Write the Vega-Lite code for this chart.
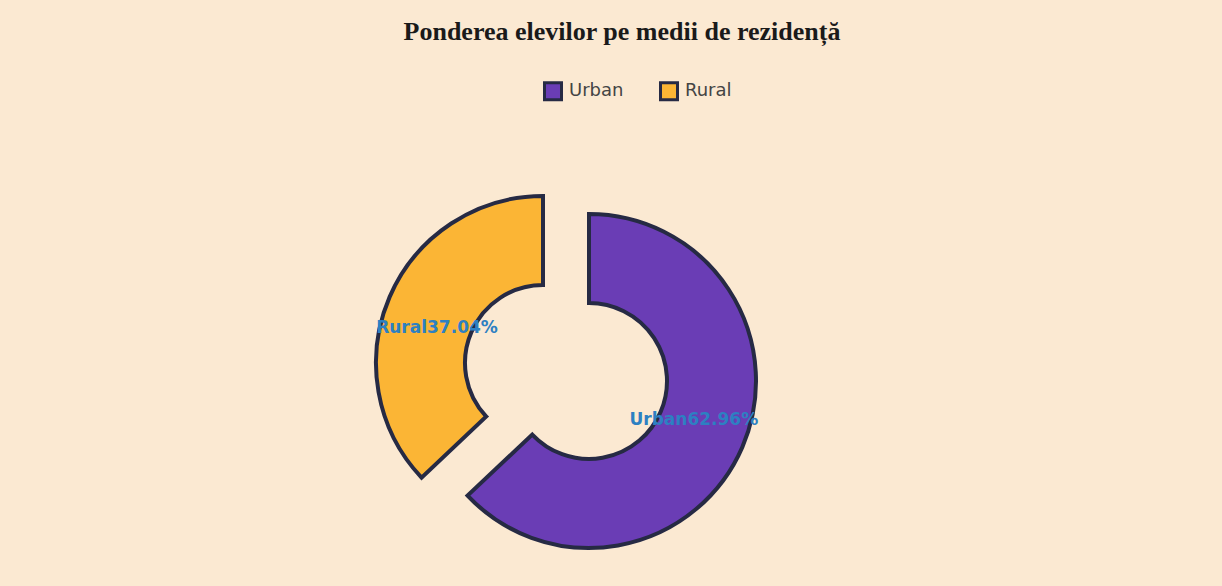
{
  "$schema": "https://vega.github.io/schema/vega-lite/v6.json",
  "autosize": {"type": "fit", "contains": "padding"},
  "width": 1222,
  "height": 586,
  "padding": {"top": 19, "left": 0, "right": 90, "bottom": 0},
  "background": "#fbe9d2",
  "config": {"view": {"stroke": null}},
  "title": {
    "text": "Ponderea elevilor pe medii de rezidență",
    "font": "Liberation Serif",
    "fontSize": 26,
    "fontWeight": "bold",
    "color": "#1a1a1a",
    "anchor": "middle",
    "frame": "group",
    "dx": 56,
    "offset": 113
  },
  "data": {
    "values": [
      {"mediu": "Urban", "pct": 62.96, "label": "Urban62.96%"},
      {"mediu": "Rural", "pct": 37.04, "label": "Rural37.04%"}
    ]
  },
  "transform": [
    {"stack": "pct", "groupby": [], "as": ["p0", "p1"], "sort": [{"field": "mediu", "order": "descending"}]}
  ],
  "layer": [
    {
      "transform": [{"filter": "datum.mediu == 'Urban'"}],
      "mark": {"type": "arc", "radius": 167, "radius2": 78, "stroke": "#262a44", "strokeWidth": 4, "xOffset": 23, "yOffset": 9},
      "encoding": {
        "theta": {"field": "p0", "type": "quantitative", "scale": {"domain": [0, 100]}},
        "theta2": {"field": "p1"},
        "color": {
          "field": "mediu", "type": "nominal",
          "scale": {"domain": ["Urban", "Rural"], "range": ["#6a3db5", "#fbb535"]},
          "legend": {
            "title": null, "orient": "none", "legendX": 543, "legendY": -77, "direction": "horizontal",
            "symbolType": "square", "symbolSize": 289, "symbolStrokeColor": "#22243a", "symbolStrokeWidth": 3,
            "labelFont": "DejaVu Sans", "labelFontSize": 18, "labelColor": "#444444",
            "columnPadding": 30, "labelOffset": 6
          }
        }
      }
    },
    {
      "transform": [{"filter": "datum.mediu == 'Rural'"}],
      "mark": {"type": "arc", "radius": 167, "radius2": 78, "stroke": "#262a44", "strokeWidth": 4, "xOffset": -23, "yOffset": -9},
      "encoding": {
        "theta": {"field": "p0", "type": "quantitative", "scale": {"domain": [0, 100]}},
        "theta2": {"field": "p1"},
        "color": {"field": "mediu", "type": "nominal"}
      }
    },
    {
      "mark": {"type": "text", "radius": 112, "xOffset": 23, "yOffset": 9, "dx": 2, "dy": -5, "font": "DejaVu Sans", "fontSize": 17, "fontWeight": "bold", "color": "#2d80c2"},
      "encoding": {
        "theta": {"field": "pct", "type": "quantitative", "stack": true, "scale": {"domain": [0, 100]}},
        "order": {"field": "mediu", "sort": "descending"},
        "text": {"field": "label"},
        "opacity": {"condition": {"test": "datum.mediu == 'Urban'", "value": 1}, "value": 0}
      }
    },
    {
      "mark": {"type": "text", "radius": 110, "xOffset": -23, "yOffset": -9, "dx": -5, "dy": 9, "font": "DejaVu Sans", "fontSize": 17, "fontWeight": "bold", "color": "#2d80c2"},
      "encoding": {
        "theta": {"field": "pct", "type": "quantitative", "stack": true, "scale": {"domain": [0, 100]}},
        "order": {"field": "mediu", "sort": "descending"},
        "text": {"field": "label"},
        "opacity": {"condition": {"test": "datum.mediu == 'Rural'", "value": 1}, "value": 0}
      }
    }
  ]
}
